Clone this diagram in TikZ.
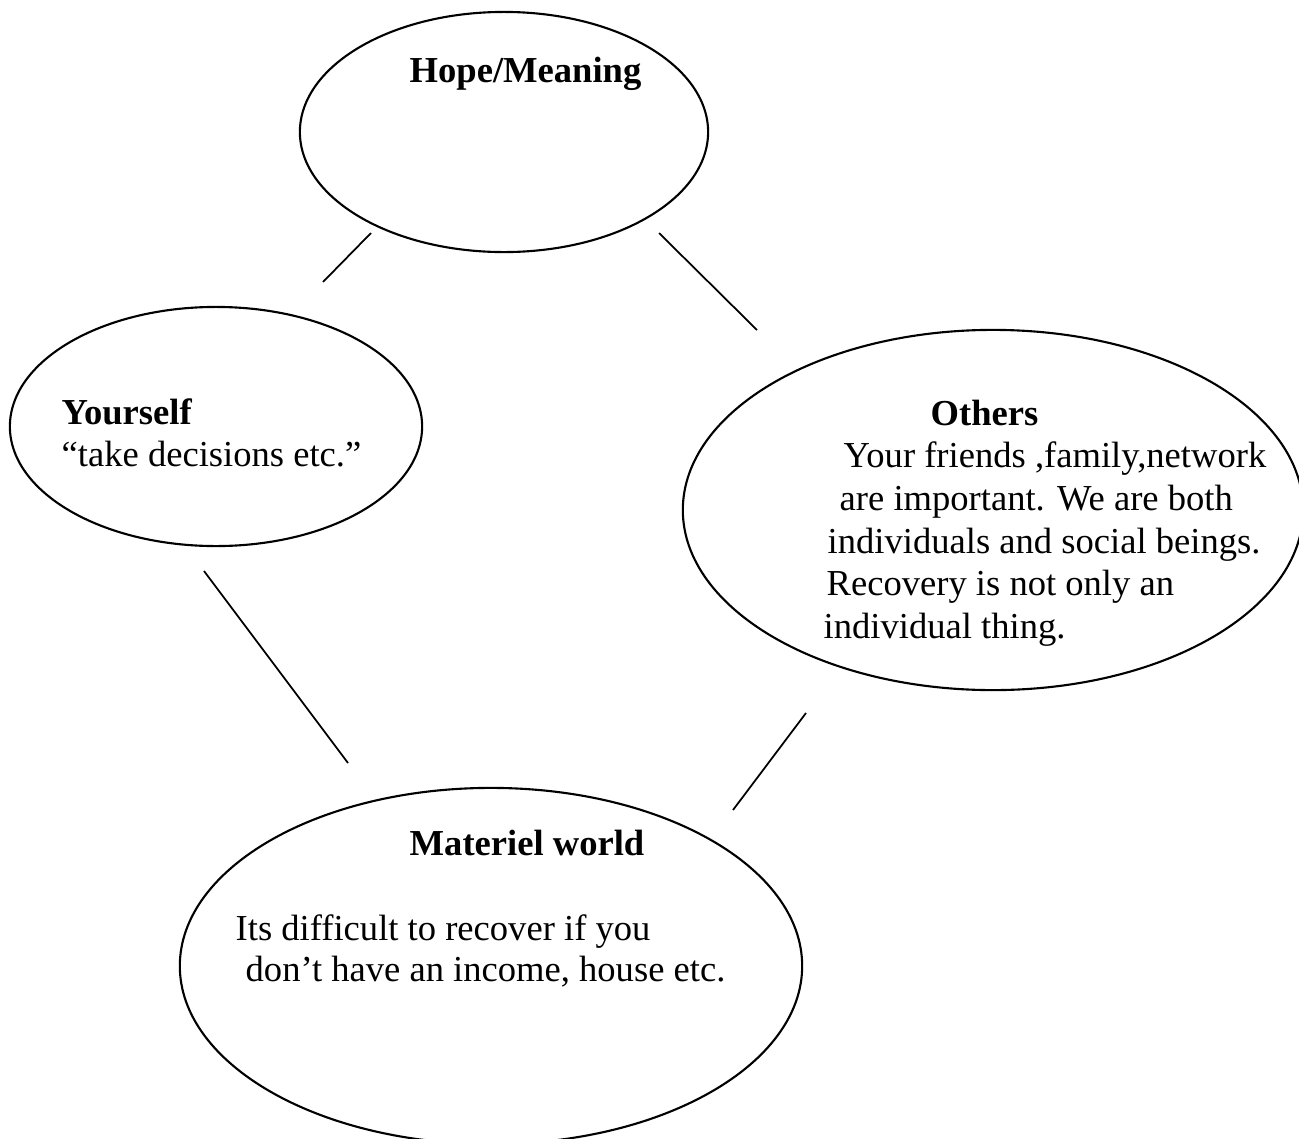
\documentclass[tikz,border=0pt]{standalone}
\usepackage{fontspec}
\setmainfont{Liberation Serif}
\usetikzlibrary{shapes.geometric}
\begin{document}
\begin{tikzpicture}[x=0.01cm,y=-0.01cm,
  bubble/.style={draw, ellipse, line width=0.6pt, inner sep=0pt},
  link/.style={line width=0.5pt},
  txt/.style={anchor=base west, inner sep=0pt, font=\fontsize{10.4}{12}\selectfont},
  hd/.style={txt, font=\fontsize{10.4}{12}\selectfont\bfseries}]
\fill[white] (0,0) rectangle (1299,1139);
\clip (0,0) rectangle (1299,1139);
% ellipses
\node[bubble, minimum width=4.08cm, minimum height=2.40cm] (hope) at (504,132) {};
\node[bubble, minimum width=4.12cm, minimum height=2.39cm] (self) at (216,426.5) {};
\node[bubble, minimum width=6.20cm, minimum height=3.60cm] (others) at (993,510) {};
\node[bubble, minimum width=6.22cm, minimum height=3.56cm] (mat) at (491,966) {};
% texts
\node[hd] (hopet) at (409,82) {Hope/Meaning};
\node[hd] (selft) at (61,424) {Yourself};
\node[txt] (selfa) at (61,466) {“take decisions etc.”};
\node[hd] (otht) at (930,425) {Others};
\node[txt] (otha) at (843,467) {Your friends ,family,network};
\node[txt] (othb) at (839,510) {are important. We are both};
\node[txt] (othc) at (827,553) {individuals and social beings.};
\node[txt] (othd) at (826,595) {Recovery is not only an};
\node[txt] (othe) at (823,638) {individual thing.};
\node[hd] (matt) at (409,855) {Materiel world};
\node[txt] (mata) at (235,940) {Its difficult to recover if you};
\node[txt] (matb) at (245,981) {don’t have an income, house etc.};
% connectors
\coordinate (c1a) at (371,233); \coordinate (c1b) at (323,282);
\coordinate (c2a) at (659,233); \coordinate (c2b) at (757,330);
\coordinate (c3a) at (204,571); \coordinate (c3b) at (348,763);
\coordinate (c4a) at (806,713); \coordinate (c4b) at (733,810);
\draw[link] (c1a) -- (c1b);
\draw[link] (c2a) -- (c2b);
\draw[link] (c3a) -- (c3b);
\draw[link] (c4a) -- (c4b);
\end{tikzpicture}
\end{document}
